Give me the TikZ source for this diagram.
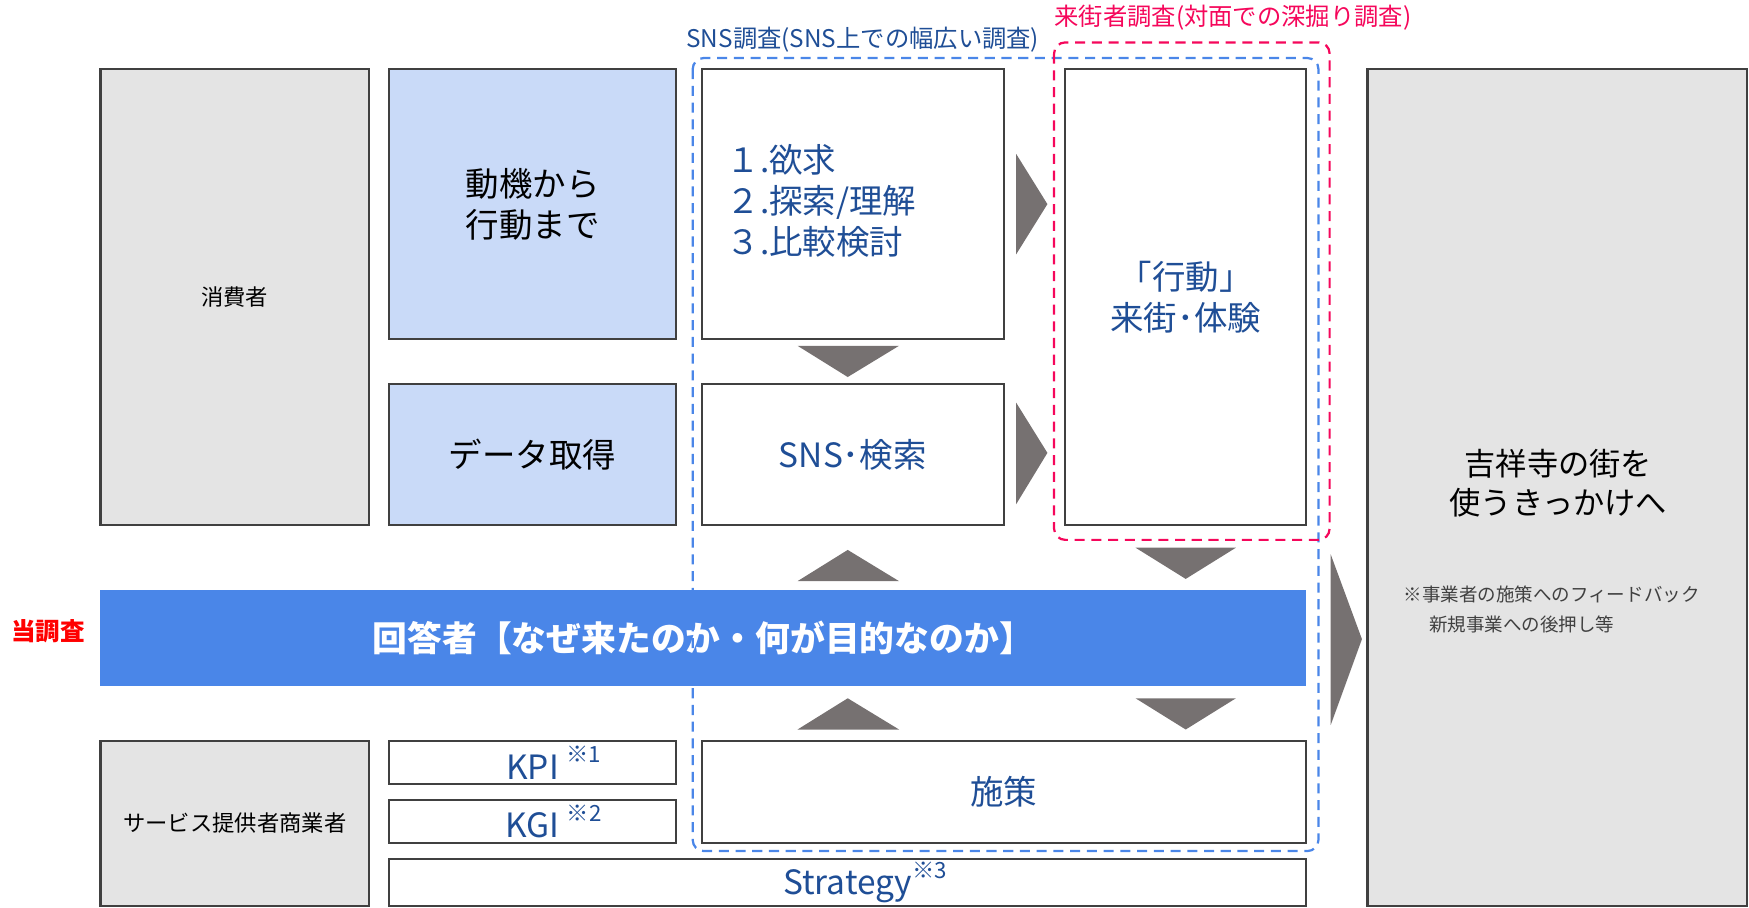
\documentclass[tikz,border=0pt]{standalone}
\usepackage{fontspec}
\setmainfont{Noto Sans CJK JP}
\usepackage{tikz}

\definecolor{boxgray}{HTML}{E4E4E4}
\definecolor{edgegray}{HTML}{404040}
\definecolor{paleblue}{HTML}{C9DAF8}
\definecolor{barblue}{HTML}{4A86E8}
\definecolor{navytext}{HTML}{1F4E96}
\definecolor{chevgray}{HTML}{767171}
\definecolor{visitpink}{HTML}{F5075B}

\tikzset{
  plainbox/.style={draw=edgegray, line width=1pt, fill=white, inner sep=0pt, text=navytext, align=center, font=\fontsize{15}{18.5}\selectfont},
  greybox/.style={plainbox, fill=boxgray, text=black, font=\fontsize{10}{12}\selectfont},
  bluebox/.style={plainbox, fill=paleblue, text=black},
  chevron/.style={fill=chevgray},
  snszone/.style={draw=barblue, line width=1pt, dash pattern=on 4.5pt off 3pt, rounded corners=5pt},
  visitzone/.style={draw=visitpink, line width=1pt, dash pattern=on 4.5pt off 3pt, rounded corners=5pt},
}
\newcommand{\noteref}[1]{\raisebox{0.5em}{\fontsize{10}{10}\selectfont ※#1}}

\begin{document}
\begin{tikzpicture}[x=0.5pt,y=0.5pt,yscale=-1,xscale=1]
\useasboundingbox (0,0) rectangle (1568,814);

% Shape: Rectangle
\node[greybox, minimum width=120.5pt, minimum height=204.5pt] (consumer) at (210.5,266.5) {消費者};
% Shape: Rectangle
\node[bluebox, minimum width=128.5pt, minimum height=121pt] (motive) at (477.5,183) {動機から\\行動まで};
% Shape: Rectangle
\node[bluebox, minimum width=128.5pt, minimum height=63.5pt] (dataget) at (477.5,407.5) {データ取得};
% Shape: Rectangle
\node[plainbox, minimum width=135.5pt, minimum height=121pt] (steps) at (764.5,183) {};
% Text Node
\node[anchor=west, align=left, text=navytext, font=\fontsize{15}{18.5}\selectfont, inner sep=0pt] (stepstext) at (651,180) {１.欲求\\２.探索/理解\\３.比較検討};
% Shape: Rectangle
\node[plainbox, minimum width=135.5pt, minimum height=63.5pt] (snssearch) at (764.5,407.5) {SNS･検索};
% Shape: Rectangle
\node[plainbox, minimum width=108pt, minimum height=204.5pt] (action) at (1063,266.5) {「行動」\\来街･体験};
% Shape: Rectangle
\node[greybox, minimum width=170pt, minimum height=375pt] (city) at (1396,437) {};
% Text Node
\node[text=black, align=center, font=\fontsize{14}{17.5}\selectfont] (citytext) at (1397,433) {吉祥寺の街を\\使うきっかけへ};
% Text Node
\node[anchor=west, align=left, text=edgegray, font=\fontsize{8.3}{13.5}\selectfont, inner sep=0pt] (feedback) at (1258,546) {※事業者の施策へのフィードバック\\\hspace{11.5pt}新規事業への後押し等};

% Shape: Rectangle
\node[fill=barblue, text=white, minimum width=540.5pt, minimum height=43pt, inner sep=0pt, font=\bfseries\fontsize{15.6}{18}\selectfont] (answer) at (630.5,572) {回答者【なぜ来たのか・何が目的なのか】\hspace{17pt}};
% Text Node
\node[text=red, font=\bfseries\fontsize{11}{13}\selectfont] (thissurvey) at (43,566) {当調査};

% Shape: Rectangle
\node[greybox, minimum width=120.5pt, minimum height=74pt] (provider) at (210.5,738) {サービス提供者商業者};
% Shape: Rectangle
\node[plainbox, minimum width=128.5pt, minimum height=19.5pt] (kpi) at (477.5,683.5) {KPI\rlap{\ \noteref{1}}};
% Shape: Rectangle
\node[plainbox, minimum width=128.5pt, minimum height=19.5pt] (kgi) at (477.5,736.5) {KGI\rlap{\ \noteref{2}}};
% Shape: Rectangle
\node[plainbox, minimum width=271pt, minimum height=46pt] (measure) at (900,710) {施策};
% Shape: Rectangle
\node[plainbox, minimum width=411pt, minimum height=21pt] (strategy) at (760,791) {Strategy\rlap{\noteref{3}}};

% Dashed frames
\draw[snszone] (621,52) rectangle (1182,763);
\draw[visitzone] (945,38) rectangle (1192,484);
% Text Node
\node[anchor=west, text=navytext, font=\fontsize{10.9}{12}\selectfont, inner sep=0pt] (snslabel) at (615,36) {SNS調査(SNS上での幅広い調査)};
% Text Node
\node[anchor=west, text=visitpink, font=\fontsize{10.9}{12}\selectfont, inner sep=0pt] (visitlabel) at (945,16) {来街者調査(対面での深掘り調査)};

% Shape: Triangle
\fill[chevron] (911,138) -- (939,183) -- (911,228) -- cycle;
% Shape: Triangle
\fill[chevron] (911,361) -- (939,406) -- (911,452) -- cycle;
% Shape: Triangle
\fill[chevron] (715,310) -- (806,310) -- (760,338) -- cycle;
% Shape: Triangle
\fill[chevron] (715,521) -- (806,521) -- (760,493) -- cycle;
% Shape: Triangle
\fill[chevron] (1018,491) -- (1108,491) -- (1063,519) -- cycle;
% Shape: Triangle
\fill[chevron] (715,654) -- (806,654) -- (760,626) -- cycle;
% Shape: Triangle
\fill[chevron] (1018,626) -- (1108,626) -- (1063,654) -- cycle;
% Shape: Triangle
\fill[chevron] (1193,497) -- (1221,573) -- (1193,650) -- cycle;

\end{tikzpicture}
\end{document}
